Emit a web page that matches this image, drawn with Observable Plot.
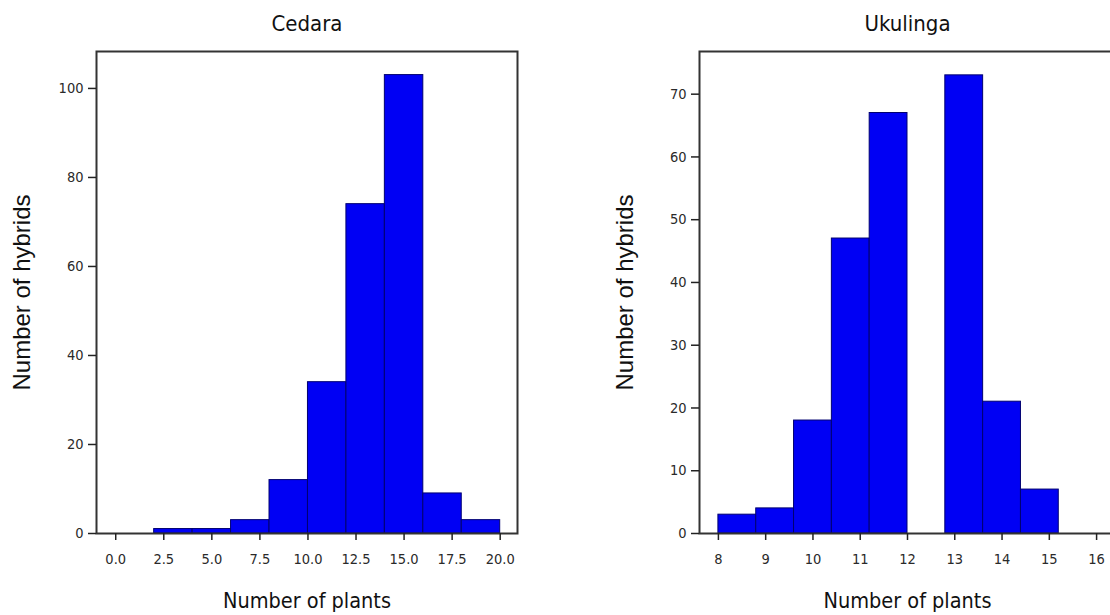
<!DOCTYPE html>
<html>
<head>
<meta charset="utf-8">
<script src="https://cdn.jsdelivr.net/npm/d3@7"></script>
<script src="https://cdn.jsdelivr.net/npm/@observablehq/plot@0.6"></script>
<style>
  html, body { margin: 0; padding: 0; background: #fff; overflow: hidden; }
  #wrap { position: relative; width: 1110px; height: 615px; overflow: hidden; background: #fff; }
  .panel { position: absolute; top: 0; height: 615px; }
  .panel svg { max-width: none !important; }
</style>
</head>
<body>
<div id="wrap">
  <div id="left" class="panel" style="left:0px; width:555px"></div>
  <div id="right" class="panel" style="left:555px; width:565px"></div>
</div>
<script>
// ---- data ----
const cedaraTitle = "Cedara";
const cedaraEdges = [2, 4, 6, 8, 10, 12, 14, 16, 18, 20];
const cedaraCounts = [1, 1, 3, 12, 34, 74, 103, 9, 3];
const cedaraXTicks = [0, 2.5, 5, 7.5, 10, 12.5, 15, 17.5, 20];
const cedaraYTicks = [0, 20, 40, 60, 80, 100];

const ukulingaTitle = "Ukulinga";
const ukulingaEdges = [8, 8.8, 9.6, 10.4, 11.2, 12, 12.8, 13.6, 14.4, 15.2];
const ukulingaCounts = [3, 4, 18, 47, 67, 0, 73, 21, 7];
const ukulingaXTicks = [8, 9, 10, 11, 12, 13, 14, 15, 16];
const ukulingaYTicks = [0, 10, 20, 30, 40, 50, 60, 70];

const xLabel = "Number of plants";
const yLabel = "Number of hybrids";

const NARROW = "'Liberation Sans Narrow', 'Arial Narrow', 'DejaVu Sans Condensed', sans-serif";
const REGULAR = "'Liberation Sans', Arial, sans-serif";

function histogram({title, edges, counts, xTicks, xFormat, yTicks, xDomain, yDomain, width, marginLeft, marginRight}) {
  const bins = counts.map((c, i) => ({x1: edges[i], x2: edges[i + 1], count: c}));
  return Plot.plot({
    width,
    height: 615,
    marginLeft,
    marginRight,
    marginTop: 51,
    marginBottom: 82,
    style: {fontFamily: NARROW, background: "#fff", overflow: "visible", maxWidth: "none"},
    x: {type: "linear", domain: xDomain},
    y: {domain: yDomain},
    marks: [
      Plot.rectY(bins, {x1: "x1", x2: "x2", y: "count", fill: "#0000f4", stroke: "#000070", strokeWidth: 1}),
      Plot.frame({stroke: "#333", strokeWidth: 2}),
      Plot.axisX({ticks: xTicks, tickFormat: xFormat, tickSize: 7, tickPadding: 13, fontSize: 14.5, fill: "#2a2a2a", stroke: "#222", strokeWidth: 1.5, label: null, fontFamily: NARROW}),
      Plot.axisY({ticks: yTicks, tickSize: 8, tickPadding: 5, fontSize: 14.5, fill: "#2a2a2a", stroke: "#222", strokeWidth: 1.5, label: null, fontFamily: NARROW}),
      Plot.text([title], {text: d => d, frameAnchor: "top", lineAnchor: "middle", textAnchor: "middle", dy: -28, fontSize: 22, fill: "#111", fontFamily: NARROW}),
      Plot.text([xLabel], {text: d => d, frameAnchor: "bottom", lineAnchor: "middle", textAnchor: "middle", dy: 68, fontSize: 21.5, fill: "#111", fontFamily: NARROW}),
      Plot.text([yLabel], {text: d => d, frameAnchor: "left", lineAnchor: "middle", textAnchor: "middle", rotate: -90, dx: -74, fontSize: 24, fill: "#111", fontFamily: REGULAR})
    ]
  });
}

document.getElementById("left").appendChild(histogram({
  title: cedaraTitle,
  edges: cedaraEdges,
  counts: cedaraCounts,
  xTicks: cedaraXTicks,
  xFormat: d => d.toFixed(1),
  yTicks: cedaraYTicks,
  xDomain: [-1, 20.9],
  yDomain: [0, 108.3],
  width: 555,
  marginLeft: 96,
  marginRight: 38
}));

document.getElementById("right").appendChild(histogram({
  title: ukulingaTitle,
  edges: ukulingaEdges,
  counts: ukulingaCounts,
  xTicks: ukulingaXTicks,
  xFormat: d => String(d),
  yTicks: ukulingaYTicks,
  xDomain: [7.6, 16.4],
  yDomain: [0, 76.8],
  width: 565,
  marginLeft: 144,
  marginRight: 5
}));
</script>
</body>
</html>
